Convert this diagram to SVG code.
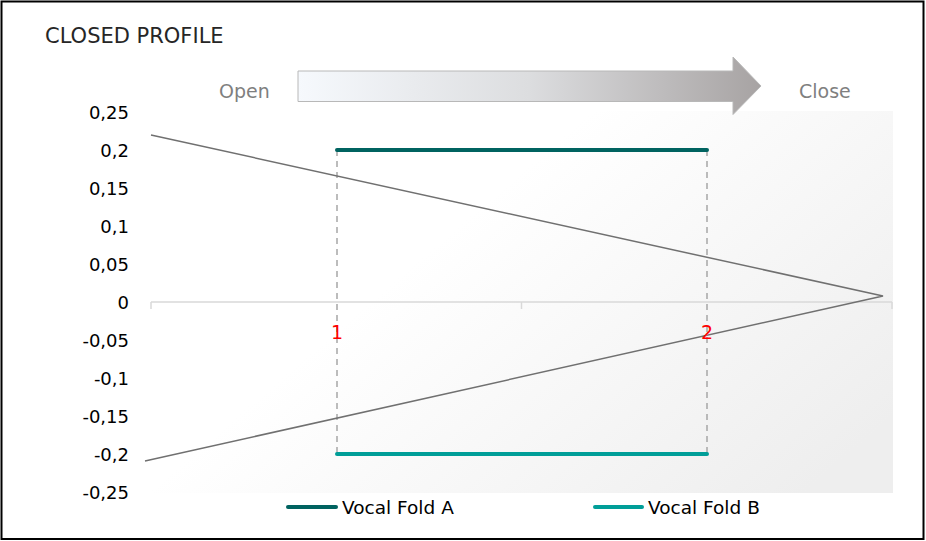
<svg xmlns="http://www.w3.org/2000/svg" width="926" height="541" viewBox="0 0 926 541">
  <defs>
    <linearGradient id="plotBg" x1="0" y1="0.2" x2="1" y2="0.8">
      <stop offset="0" stop-color="#ffffff"/>
      <stop offset="0.35" stop-color="#ffffff"/>
      <stop offset="1" stop-color="#eeeeee"/>
    </linearGradient>
    <linearGradient id="arrowGrad" x1="0" y1="0" x2="1" y2="0">
      <stop offset="0" stop-color="#f6f9fd"/>
      <stop offset="0.5" stop-color="#dcdddf"/>
      <stop offset="1" stop-color="#a7a3a3"/>
    </linearGradient>
    <style>
      .ylab { font-family: "DejaVu Sans", sans-serif; font-size: 18px; fill: #000; text-anchor: end; }
      .cat { font-family: "DejaVu Sans", sans-serif; font-size: 19px; fill: #ff0000; text-anchor: middle; }
      .leg { font-family: "DejaVu Sans", sans-serif; font-size: 18.5px; fill: #000; }
      .hint { font-family: "DejaVu Sans", sans-serif; font-size: 19px; fill: #7f7f7f; }
      .title { font-family: "DejaVu Sans", sans-serif; font-size: 21px; fill: #262626; }
      .dash { stroke: #a6a6a6; stroke-width: 1.5; stroke-dasharray: 6 5; fill: none; }
      .foldA { stroke: #006360; stroke-width: 4; stroke-linecap: round; fill: none; }
      .foldB { stroke: #009e98; stroke-width: 4; stroke-linecap: round; fill: none; }
      .axis { stroke: #d9d9d9; stroke-width: 1.5; fill: none; }
      .profile { stroke: #707070; stroke-width: 1.5; fill: none; }
    </style>
  </defs>

  <rect x="0" y="0" width="926" height="541" fill="#ffffff"/>
  <rect x="1.5" y="1.5" width="922" height="537.5" fill="none" stroke="#000" stroke-width="2"/>

  <g id="title">
    <text class="title" x="45" y="43">CLOSED PROFILE</text>
  </g>

  <g id="plot-area">
    <rect x="150" y="111" width="743" height="382" fill="url(#plotBg)"/>
  </g>

  <g id="direction-arrow">
    <text class="hint" x="219" y="98">Open</text>
    <path d="M298,71 L733,71 L733,57 L761,86 L733,114.5 L733,101.5 L298,101.5 Z" fill="url(#arrowGrad)" stroke="#b8b8b8" stroke-width="1"/>
    <text class="hint" x="799" y="98">Close</text>
  </g>

  <g id="y-axis">
    <text class="ylab" x="129" y="118.5">0,25</text>
    <text class="ylab" x="129" y="156.5">0,2</text>
    <text class="ylab" x="129" y="194.5">0,15</text>
    <text class="ylab" x="129" y="232.5">0,1</text>
    <text class="ylab" x="129" y="270.5">0,05</text>
    <text class="ylab" x="129" y="308.5">0</text>
    <text class="ylab" x="129" y="346.5">-0,05</text>
    <text class="ylab" x="129" y="384.5">-0,1</text>
    <text class="ylab" x="129" y="422.5">-0,15</text>
    <text class="ylab" x="129" y="460.5">-0,2</text>
    <text class="ylab" x="129" y="498.5">-0,25</text>
  </g>

  <g id="x-axis">
    <path class="axis" d="M151,302 L892,302 M151,302 L151,309 M521.5,302 L521.5,309 M892,302 L892,309"/>
  </g>

  <g id="connectors">
    <path class="dash" d="M337,150 L337,454"/>
    <path class="dash" d="M707,150 L707,454"/>
    <path class="profile" d="M151,135 L883,296 L145,461"/>
  </g>

  <g id="vocal-fold-a">
    <path class="foldA" d="M337,150 L707,150"/>
  </g>
  <g id="vocal-fold-b">
    <path class="foldB" d="M337,454 L707,454"/>
  </g>

  <g id="category-labels">
    <text class="cat" x="337" y="339">1</text>
    <text class="cat" x="707" y="339">2</text>
  </g>

  <g id="legend">
    <path class="foldA" d="M288,507 L336,507"/>
    <text class="leg" x="342" y="514">Vocal Fold A</text>
    <path class="foldB" d="M595,507 L642,507"/>
    <text class="leg" x="648" y="514">Vocal Fold B</text>
  </g>
</svg>
